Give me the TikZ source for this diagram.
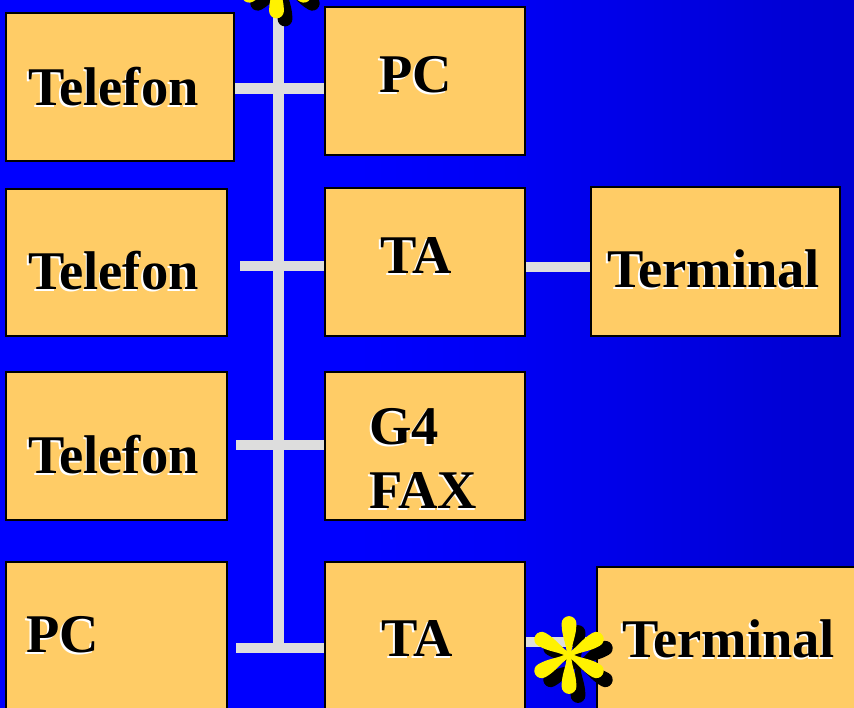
\documentclass[tikz,border=0pt]{standalone}
\usepackage{fontspec}
\setmainfont{Liberation Serif}
\usetikzlibrary{backgrounds}
\definecolor{boxfill}{HTML}{FFCC66}
\definecolor{busgray}{HTML}{DDDDDD}
\definecolor{bgA}{HTML}{0000FF}
\definecolor{bgB}{HTML}{0000F4}
\definecolor{bgC}{HTML}{0000D4}
\definecolor{bgD}{HTML}{0000BC}
\pgfdeclarehorizontalshading{bgshade}{100bp}{color(0bp)=(bgA); color(45bp)=(bgA); color(55bp)=(bgB); color(72bp)=(bgC); color(100bp)=(bgD)}
\newcommand\shtxt[1]{\makebox[0pt][l]{\kern-1.5pt\raisebox{-2pt}{\color{white}#1}}#1}
\tikzset{
  box/.style={draw=black, line width=2.5pt, fill=boxfill, rectangle, inner sep=0pt, outer sep=0pt},
  bus/.style={draw=busgray, line width=10.5pt},
  lbl/.style={anchor=base west, inner sep=0pt, outer sep=0pt, font=\fontsize{54.5}{64}\selectfont\bfseries},
  spark/.pic={\begin{scope}[x=1pt,y=1pt]
    \foreach \a in {30,90,150,210,270,330}{
      \fill[rotate=\a] (0,-2.2) .. controls (12,-2.4) and (18,-7.4) .. (31.5,-7.4)
        arc[start angle=-90,end angle=90,radius=7.4]
        .. controls (18,7.4) and (12,2.4) .. (0,2.2) -- cycle;}
  \end{scope}}
}
\begin{document}
\begin{tikzpicture}[x=1pt,y=-1pt]
\useasboundingbox (0,0) rectangle (854,707);
\clip (0,0) rectangle (854,707);

% junction coordinates
\coordinate (btop) at (278.5,-5);
\coordinate (j4) at (278.5,648);
\coordinate (j1) at (278.5,88.5);
\coordinate (s2) at (240,266);
\coordinate (s3) at (236,445);
\coordinate (s4) at (236,648);
\coordinate (l1) at (526,267);
\coordinate (l2) at (526,642);

% boxes
\node[box, minimum width=228pt, minimum height=148pt] (tel1) at (120,87) {};
\node[box, minimum width=200pt, minimum height=148pt] (pc1) at (425,81) {};
\node[box, minimum width=221pt, minimum height=147pt] (tel2) at (116.5,262.5) {};
\node[box, minimum width=200pt, minimum height=148pt] (ta1) at (425,262) {};
\node[box, minimum width=249pt, minimum height=149pt] (term1) at (715.5,261.5) {};
\node[box, minimum width=221pt, minimum height=148pt] (tel3) at (116.5,446) {};
\node[box, minimum width=200pt, minimum height=148pt] (fax) at (425,446) {};
\node[box, minimum width=221pt, minimum height=148pt] (pc2) at (116.5,636) {};
\node[box, minimum width=200pt, minimum height=148pt] (ta2) at (425,636) {};
\node[box, minimum width=263pt, minimum height=148pt] (term2) at (728.5,641) {};

% background and bus lines, behind the boxes
\begin{pgfonlayer}{background}
\shade[shading=bgshade] (0,0) rectangle (854,707);
\draw[bus] (btop) -- (j4);
\draw[bus] (tel1.east |- j1) -- (pc1.west |- j1);
\draw[bus] (s2) -- (ta1.west |- s2);
\draw[bus] (ta1.east |- l1) -- (term1.west |- l1);
\draw[bus] (s3) -- (fax.west |- s3);
\draw[bus] (s4) -- (ta2.west |- s4);
\draw[bus] (ta2.east |- l2) -- (term2.west |- l2);
\end{pgfonlayer}

% labels
\node[lbl] (tel1t) at (28,105) {\shtxt{Telefon}};
\node[lbl] (pc1t) at (379,92) {\shtxt{PC}};
\node[lbl] (tel2t) at (28,289) {\shtxt{Telefon}};
\node[lbl] (ta1t) at (380,273) {\shtxt{TA}};
\node[lbl] (term1t) at (607,287) {\shtxt{Terminal}};
\node[lbl] (tel3t) at (28,473) {\shtxt{Telefon}};
\node[lbl] (faxt1) at (369,444) {\shtxt{G4}};
\node[lbl] (faxt2) at (369,508) {\shtxt{FAX}};
\node[lbl] (pc2t) at (26,652) {\shtxt{PC}};
\node[lbl] (ta2t) at (381,656) {\shtxt{TA}};
\node[lbl] (term2t) at (622,657) {\shtxt{Terminal}};

% asterisks
\pic[color=black] at (285,-12.5) {spark};
\pic[color=yellow] at (276.5,-20.5) {spark};
\pic[color=black] at (578,664) {spark};
\pic[color=yellow] at (569,655) {spark};
\end{tikzpicture}
\end{document}
